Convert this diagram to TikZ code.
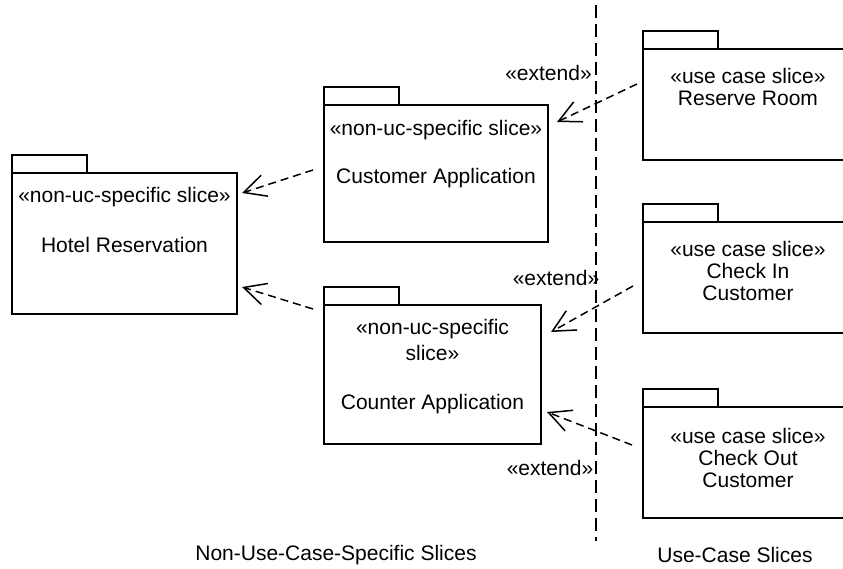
\documentclass[tikz,border=0pt]{standalone}
\usepackage{fontspec}
\setmainfont{Liberation Sans}
\usetikzlibrary{arrows.meta}
\begin{document}
\begin{tikzpicture}[x=1pt,y=-1pt,
  body/.style={draw=black, line width=1.7pt, inner sep=0pt, outer sep=0pt, anchor=north west},
  tab/.style={draw=black, line width=1.7pt, inner sep=0pt, outer sep=0pt, anchor=south west,
              minimum width=75pt, minimum height=18pt},
  lbl/.style={anchor=base, inner sep=0pt, font=\fontsize{21}{25}\selectfont},
  dep/.style={draw=black, line width=1.5pt, dash pattern=on 8pt off 5pt,
              -{Straight Barb[length=22pt, width=22pt, line width=1.5pt]}},
  sep/.style={draw=black, line width=1.6pt, dash pattern=on 13pt off 6pt}]

\useasboundingbox (0,0) rectangle (843,569);
\clip (0,0) rectangle (843,569);

% non-use-case-specific slices
\node[body, minimum width=225pt, minimum height=141pt] (hr) at (12,173) {};
\node[tab] (hrtab) at (hr.north west) {};
\node[lbl] (hrst) at (124.5,203) {«non-uc-specific slice»};
\node[lbl] (hrnm) at (124.5,252.5) {Hotel Reservation};

\node[body, minimum width=224pt, minimum height=137pt] (cu) at (324,105) {};
\node[tab] (cutab) at (cu.north west) {};
\node[lbl] (cust) at (436,136) {«non-uc-specific slice»};
\node[lbl] (cunm) at (436,184) {Customer Application};

\node[body, minimum width=217pt, minimum height=139pt] (co) at (324,305) {};
\node[tab] (cotab) at (co.north west) {};
\node[lbl] (cost1) at (432.5,334) {«non-uc-specific};
\node[lbl] (cost2) at (432.5,360.5) {slice»};
\node[lbl] (conm) at (432.5,409) {Counter Application};

% use-case slices (running past the right edge)
\node[body, minimum width=227pt, minimum height=111pt] (rr) at (643,49) {};
\node[tab] (rrtab) at (rr.north west) {};
\node[lbl] (rrst) at (748,83.5) {«use case slice»};
\node[lbl] (rrnm) at (748,106) {Reserve Room};

\node[body, minimum width=227pt, minimum height=111pt] (ci) at (643,222) {};
\node[tab] (citab) at (ci.north west) {};
\node[lbl] (cist) at (748,256.5) {«use case slice»};
\node[lbl] (cinm1) at (748,278.5) {Check In};
\node[lbl] (cinm2) at (748,300.5) {Customer};

\node[body, minimum width=227pt, minimum height=111pt] (cx) at (643,407) {};
\node[tab] (cxtab) at (cx.north west) {};
\node[lbl] (cxst) at (748,443) {«use case slice»};
\node[lbl] (cxnm1) at (748,465) {Check Out};
\node[lbl] (cxnm2) at (748,487) {Customer};

% separator between the two groups
\coordinate (septop) at (596,5);
\coordinate (sepbot) at (596,541);
\draw[sep] (septop) -- (sepbot);

% dependencies
\draw[dep] ([shift={(-11,-3.5)}]cu.west) -- ([shift={(5,20)}]hr.north east);
\draw[dep] ([shift={(-11,4)}]co.north west) -- ([shift={(5,-27)}]hr.south east);
\draw[dep] ([shift={(-6,35)}]rr.north west) -- ([shift={(9,17)}]cu.north east);
\draw[dep] ([shift={(-10,64)}]ci.north west) -- ([shift={(10,27)}]co.north east);
\draw[dep] ([shift={(-11,38)}]cx.north west) -- ([shift={(6,107)}]co.north east);

% extend labels
\node[lbl] (ex1) at (548.5,81) {«extend»};
\node[lbl] (ex2) at (556,286) {«extend»};
\node[lbl] (ex3) at (550,475) {«extend»};

% group captions
\node[lbl] (capl) at (336,560) {Non-Use-Case-Specific Slices};
\node[lbl] (capr) at (735,562) {Use-Case Slices};
\end{tikzpicture}
\end{document}
